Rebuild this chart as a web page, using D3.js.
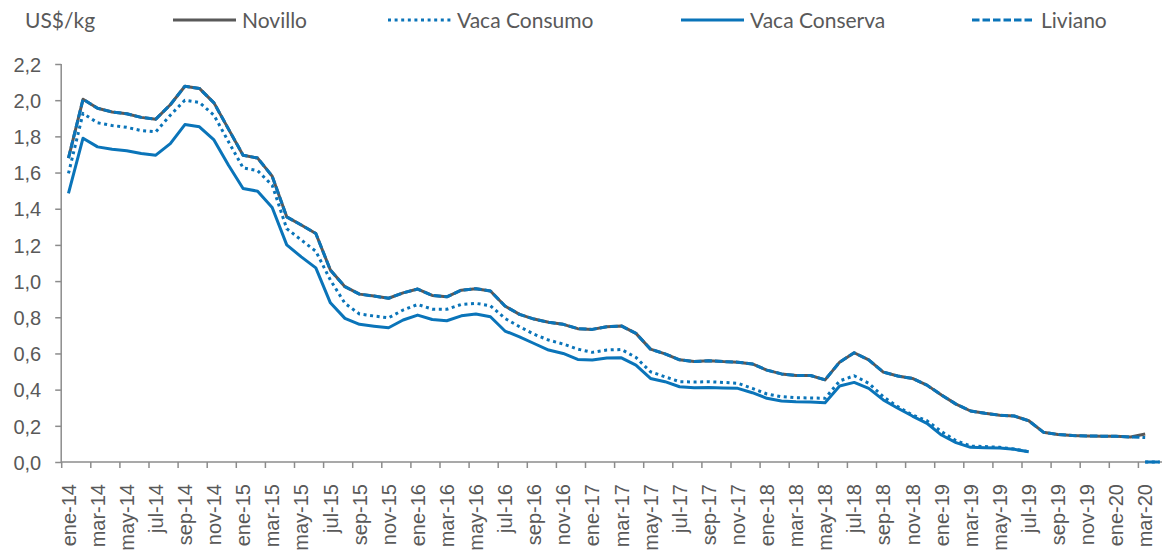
<!DOCTYPE html>
<html>
<head>
<meta charset="utf-8">
<script src="https://cdn.jsdelivr.net/npm/d3@7"></script>
<style>
  html, body { margin: 0; padding: 0; background: #fff; }
  svg { display: block; font-family: Lato, 'Open Sans', sans-serif; }
  .axis text { fill: #595959; }
  .axis path, .axis line { stroke: #8c8c8c; stroke-width: 1.5; }
</style>
</head>
<body>
<svg id="chart" width="1162" height="554"></svg>
<script>
// monthly categories ene-14 .. abr-20 (abr-20 sits on the right edge of the picture)
const monthNames = ['ene', 'feb', 'mar', 'abr', 'may', 'jun', 'jul', 'ago', 'sep', 'oct', 'nov', 'dic'];
const categories = [];
for (let yy = 14; yy <= 20; yy++) {
  monthNames.forEach((m, k) => {
    if (yy < 20 || k < 4) categories.push(`${m}-${yy}`);
  });
}

const yTicks = [0, 0.2, 0.4, 0.6, 0.8, 1.0, 1.2, 1.4, 1.6, 1.8, 2.0, 2.2];

const novillo = [
  1.68, 2.005, 1.955, 1.935, 1.925, 1.905, 1.895, 1.975, 2.077, 2.065,
  1.985, 1.84, 1.696, 1.68, 1.58, 1.355, 1.31, 1.263, 1.061, 0.969,
  0.928, 0.917, 0.905, 0.935, 0.956, 0.921, 0.913, 0.95, 0.958, 0.945,
  0.862, 0.816, 0.79, 0.772, 0.761, 0.737, 0.733, 0.748, 0.752, 0.711,
  0.624, 0.598, 0.565, 0.555, 0.56, 0.555, 0.552, 0.542, 0.508, 0.487,
  0.478, 0.478, 0.454, 0.552, 0.604, 0.564, 0.497, 0.475, 0.462, 0.425,
  0.37, 0.32, 0.282, 0.269, 0.259, 0.254, 0.228, 0.165, 0.152, 0.146,
  0.144, 0.143, 0.142, 0.138, 0.155, null
];

const vacaConsumo = [
  1.595, 1.927, 1.875, 1.86, 1.85, 1.832, 1.825, 1.917, 2.0, 1.987,
  1.917, 1.77, 1.626, 1.61, 1.53, 1.29, 1.227, 1.165, 1.006, 0.877,
  0.818, 0.807, 0.797, 0.84, 0.871, 0.845, 0.844, 0.871, 0.877, 0.864,
  0.794, 0.748, 0.706, 0.674, 0.652, 0.624, 0.606, 0.619, 0.622, 0.578,
  0.499, 0.471, 0.444, 0.442, 0.444, 0.44, 0.435, 0.407, 0.376, 0.361,
  0.355, 0.354, 0.352, 0.448, 0.477, 0.435, 0.361, 0.306, 0.26, 0.228,
  0.168, 0.118, 0.088, 0.085, 0.081, 0.072, 0.057, null, null, null,
  null, null, null, null, 0, 0
];

const vacaConserva = [
  1.485, 1.79, 1.742, 1.729, 1.72, 1.705, 1.696, 1.76, 1.865, 1.853,
  1.78, 1.64, 1.512, 1.497, 1.407, 1.2, 1.134, 1.073, 0.88, 0.794,
  0.761, 0.751, 0.742, 0.785, 0.812, 0.788, 0.781, 0.808, 0.818, 0.803,
  0.724, 0.692, 0.655, 0.619, 0.60, 0.567, 0.564, 0.575, 0.576, 0.536,
  0.462, 0.444, 0.416, 0.41, 0.412, 0.409, 0.407, 0.383, 0.352, 0.337,
  0.333, 0.331, 0.328, 0.42, 0.44, 0.407, 0.343, 0.297, 0.254, 0.214,
  0.149, 0.107, 0.081, 0.079, 0.077, 0.07, 0.057, null, null, null,
  null, null, null, null, 0, 0
];

const liviano = [
  1.68, 2.005, 1.955, 1.935, 1.925, 1.905, 1.895, 1.975, 2.077, 2.065,
  1.985, 1.84, 1.696, 1.68, 1.58, 1.355, 1.31, 1.263, 1.061, 0.969,
  0.928, 0.917, 0.905, 0.935, 0.956, 0.921, 0.913, 0.95, 0.958, 0.945,
  0.862, 0.816, 0.79, 0.772, 0.761, 0.737, 0.733, 0.748, 0.752, 0.711,
  0.624, 0.598, 0.565, 0.555, 0.56, 0.555, 0.552, 0.542, 0.508, 0.487,
  0.478, 0.478, 0.454, 0.552, 0.604, 0.564, 0.497, 0.475, 0.462, 0.425,
  0.37, 0.32, 0.282, 0.269, 0.259, 0.254, 0.228, 0.165, 0.152, 0.146,
  0.144, 0.143, 0.142, 0.138, 0.135, null
];

const blue = '#0a74b9';
const series = [
  { name: 'Novillo', values: novillo, color: '#595959', dash: null, legendX: 173 },
  { name: 'Vaca Consumo', values: vacaConsumo, color: blue, dash: '3,3.6', legendX: 388 },
  { name: 'Vaca Conserva', values: vacaConserva, color: blue, dash: null, legendX: 681 },
  { name: 'Liviano', values: liviano, color: blue, dash: '7.5,3', legendX: 972 },
];

const svg = d3.select('#chart');
const left = 61.2;
const monthW = 14.55;
const x = d3.scaleBand()
  .domain(categories)
  .range([left, left + categories.length * monthW])
  .padding(0);
const xIdx = d3.scaleLinear()
  .domain([0, categories.length])
  .range([left, left + categories.length * monthW]);
const y = d3.scaleLinear().domain([0, 2.2]).range([462, 64]);

// y axis
const yAxis = svg.append('g')
  .attr('class', 'axis y-axis')
  .attr('transform', `translate(${left},0)`)
  .call(d3.axisLeft(y)
    .tickValues(yTicks)
    .tickSize(6)
    .tickPadding(14)
    .tickFormat(d => d3.format('.1f')(d).replace('.', ',')));
yAxis.select('.domain').attr('d', `M0,${y(2.2)}V${y(0)}`);
yAxis.selectAll('text').style('font-size', '20px').attr('dy', '0.36em');

// x axis: tick marks between categories every 2 months
const xTicksG = svg.append('g')
  .attr('class', 'axis x-axis')
  .attr('transform', `translate(0,${y(0)})`)
  .call(d3.axisBottom(xIdx)
    .tickValues(d3.range(0, categories.length + 1, 2))
    .tickSize(6)
    .tickFormat(''));
xTicksG.select('.domain').attr('d', `M${left},0H${xIdx(categories.length)}`);

const xLabels = svg.append('g')
  .attr('class', 'axis x-labels')
  .attr('transform', `translate(0,${y(0)})`)
  .call(d3.axisBottom(x)
    .tickValues(categories.filter((c, i) => i % 2 === 0))
    .tickSize(0));
xLabels.select('.domain').remove();
xLabels.selectAll('text')
  .style('font-size', '20px')
  .attr('text-anchor', 'end')
  .attr('transform', 'rotate(-90)')
  .attr('x', -22)
  .attr('y', 0)
  .attr('dx', 0)
  .attr('dy', '0.36em');

// lines
const line = d3.line()
  .defined(d => d.v !== null)
  .x(d => x(d.c) + x.bandwidth() / 2)
  .y(d => y(d.v));

series.forEach(s => {
  svg.append('path')
    .datum(categories.map((c, i) => ({ c, v: s.values[i] === undefined ? null : s.values[i] })))
    .attr('fill', 'none')
    .attr('stroke', s.color)
    .attr('stroke-width', 3)
    .attr('stroke-linejoin', 'round')
    .attr('stroke-dasharray', s.dash)
    .attr('d', line);
});

// legend + unit title
svg.append('text')
  .attr('x', 25)
  .attr('y', 20)
  .attr('dy', '0.36em')
  .attr('fill', '#595959')
  .style('font-size', '21px')
  .text('US$/kg');

const legend = svg.append('g').attr('class', 'legend');
series.forEach(s => {
  const g = legend.append('g').attr('transform', `translate(${s.legendX},20)`);
  g.append('line')
    .attr('x1', 0).attr('x2', 63)
    .attr('stroke', s.color)
    .attr('stroke-width', 3)
    .attr('stroke-dasharray', s.dash);
  g.append('text')
    .attr('x', 69)
    .attr('dy', '0.36em')
    .attr('fill', '#595959')
    .style('font-size', '21px')
    .text(s.name);
});
</script>
</body>
</html>
